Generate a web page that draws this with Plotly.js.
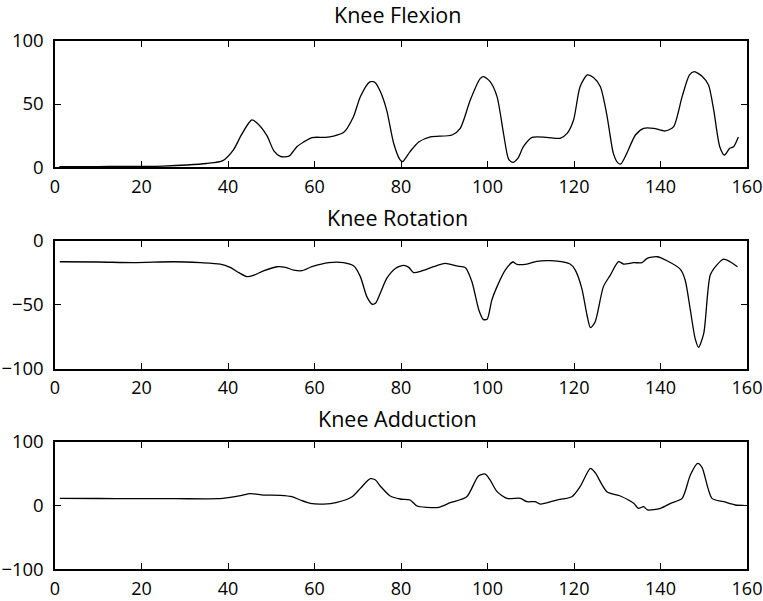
<!DOCTYPE html>
<html>
<head>
<meta charset="utf-8">
<script src="https://cdn.plot.ly/plotly-3.0.1.min.js"></script>
<style>html,body{margin:0;padding:0;background:#fff;}#chart{width:763px;height:601px;}</style>
</head>
<body>
<div id="chart"></div>
<script>
// Knee Flexion
const flexX = [1, 5, 10, 15, 20, 25, 30.5, 35, 38.8, 41.3, 43, 44.8, 45.5, 46.7, 49, 50.6, 52.1, 53.6, 54.2, 56, 57.5, 59.4, 62.5, 64.4, 66.7, 69, 70.6, 72.8, 74, 75.2, 76.7, 78.3, 79.8, 80.4, 82.1, 84.1, 86.8, 91.8, 93.7, 96, 98.3, 99.1, 100.6, 102.2, 103.7, 104.9, 105.9, 107, 108.3, 110.3, 113.7, 116.8, 118.4, 119.9, 121.4, 123.1, 124.5, 126.1, 127.6, 129.1, 130.1, 130.8, 132.2, 134.2, 136.1, 138.4, 141.1, 143, 145, 146.7, 147.8, 149.6, 151.1, 152.3, 153.7, 154.8, 156, 156.9, 158];
const flexY = [0.5, 0.6, 0.6, 0.7, 0.8, 1, 1.8, 3, 5.3, 14, 25, 35, 37.4, 35, 25, 13, 8.6, 8.4, 9, 16.5, 20, 23.5, 23.7, 24.7, 27.4, 40, 55.8, 67.5, 67, 60, 45, 19, 5.8, 4.5, 12.4, 20, 24, 25.5, 30.8, 53, 70, 71.6, 67.6, 55.8, 26.8, 6.3, 3.9, 7, 16.3, 23.7, 23.7, 22.9, 26.8, 37.4, 63.7, 73, 71, 63.7, 41.3, 11, 3.7, 2.6, 11, 25.5, 30.8, 30.8, 28.7, 32, 55.8, 73, 75.5, 72, 65, 45.3, 16.3, 9.7, 15, 16.3, 24];

// Knee Rotation
const rotX = [1.1, 10, 18.2, 27.4, 33.6, 38.2, 40.5, 42.5, 44.4, 45.9, 48.2, 51.3, 53.3, 55.2, 57.1, 59.4, 63.3, 66.7, 69.1, 70.6, 72.1, 73.3, 74.1, 75.2, 76.7, 78.7, 80.6, 81.8, 82.9, 84.8, 87.5, 90.2, 92.9, 94.9, 96.4, 98, 99, 99.9, 101, 102.2, 104.1, 105.9, 106.8, 109.1, 111.4, 114.5, 119.1, 120.3, 121.8, 123, 123.8, 124.9, 126.8, 128.4, 130.3, 131.5, 133.8, 135.7, 136.9, 139.2, 141.5, 144.6, 145.7, 146.9, 148, 148.8, 150, 151.5, 153, 154.6, 156.1, 157.8];
const rotY = [-16.4, -16.6, -17.1, -16.4, -17.1, -18.2, -20.8, -24.9, -28, -27, -23.6, -20.3, -20.8, -22.9, -23.4, -20.3, -17.1, -17.1, -19.7, -28, -43.6, -49.4, -48.8, -41, -29.4, -21.6, -19.2, -20.8, -24.9, -23.6, -20.3, -17.7, -19.7, -21, -32, -54, -61.3, -61.3, -46.2, -35.8, -22.9, -16.6, -18.4, -18.2, -16.1, -15.6, -18.2, -22.9, -37.1, -57.9, -67.8, -63.1, -35.8, -26.8, -16.4, -18.2, -17.1, -17.1, -13.8, -12.5, -15.6, -22.3, -30.6, -54, -76.1, -83.1, -72.2, -26.8, -19, -14.3, -16.4, -20.3];

// Knee Adduction
const addX = [1.1, 10, 18.2, 28, 37.5, 40.5, 42.9, 45.2, 48.2, 52.1, 54.8, 56.7, 59, 62.1, 65.2, 68.7, 70.6, 72.9, 74.1, 75.2, 77.5, 79.8, 82.1, 83.7, 86, 88.7, 91.4, 95.2, 97.9, 99.5, 100.6, 102.2, 104.5, 107.6, 109.1, 111, 112.2, 116, 119.5, 121.4, 123.8, 124.9, 127.6, 130.7, 133.8, 134.9, 136.1, 137, 140, 142.3, 145, 146.9, 148.6, 149.6, 151.9, 154.6, 157.3, 159.2];
const addY = [11.2, 11, 10.7, 10.7, 10.7, 12.8, 15.4, 18.5, 16.4, 15.9, 13.8, 8.6, 3.4, 2.3, 5, 13.8, 26.9, 42, 40, 30.5, 14.9, 10.2, 8.6, -0.8, -2.9, -2.9, 4.4, 13.8, 46.2, 49.3, 40, 21.7, 11.2, 11.2, 6, 6, 2.3, 8.6, 13.8, 29.5, 58.2, 51.4, 21.7, 14.9, 3.4, -4.4, -1.8, -7, -4.4, 3.4, 11.2, 47.8, 66, 59.8, 11.2, 6, 0.8, 0.3];

const titles = ["Knee Flexion", "Knee Rotation", "Knee Adduction"];
const xTicks = [0, 20, 40, 60, 80, 100, 120, 140, 160];
const yTicks1 = [0, 50, 100];
const yTicks2 = [-100, -50, 0];
const yTicks3 = [-100, 0, 100];

const H = 601;
function dom(top, bottom) { return [1 - bottom / H, 1 - top / H]; }

const fontFam = "Open Sans, sans-serif";
const lineStyle = {color: "#000", width: 1.3, shape: "spline", smoothing: 0.7};

const traces = [
  {x: flexX, y: flexY, xaxis: "x", yaxis: "y", mode: "lines", line: lineStyle, hoverinfo: "none"},
  {x: rotX, y: rotY, xaxis: "x2", yaxis: "y2", mode: "lines", line: lineStyle, hoverinfo: "none"},
  {x: addX, y: addY, xaxis: "x3", yaxis: "y3", mode: "lines", line: lineStyle, hoverinfo: "none"}
];

function xax(anchor) {
  return {anchor: anchor, domain: [0, 1], range: [0, 160], tickvals: xTicks, ticks: "inside", ticklen: 6,
    tickwidth: 1, tickcolor: "#000", showline: true, linecolor: "#000", linewidth: 1.6, mirror: "ticks",
    showgrid: false, zeroline: false, tickfont: {size: 18, color: "#000", family: fontFam},
    ticklabelstandoff: 2, ticklabeloverflow: "allow"};
}
function yax(anchor, d, r, tv) {
  return {anchor: anchor, domain: d, range: r, tickvals: tv, ticks: "inside", ticklen: 6, tickwidth: 1,
    tickcolor: "#000", showline: true, linecolor: "#000", linewidth: 1.6, mirror: "ticks", showgrid: false,
    zeroline: false, tickfont: {size: 18.5, color: "#000", family: fontFam}, ticklabelstandoff: 6,
    ticklabeloverflow: "allow"};
}

const titleY = [15, 217, 418];
const annotations = titles.map((t, i) => ({
  text: t, xref: "paper", yref: "paper", x: 0.495, y: 1 - titleY[i] / H, xanchor: "center", yanchor: "middle",
  showarrow: false, font: {size: 21.5, color: "#000", family: fontFam}
}));

const layout = {
  width: 763, height: 601,
  margin: {l: 55, r: 16, t: 0, b: 0},
  paper_bgcolor: "#fff", plot_bgcolor: "#fff",
  showlegend: false,
  xaxis: xax("y"), yaxis: yax("x", dom(40.7, 167.3), [0, 100], yTicks1),
  xaxis2: xax("y2"), yaxis2: yax("x2", dom(240.7, 369), [-100, 0], yTicks2),
  xaxis3: xax("y3"), yaxis3: yax("x3", dom(441.7, 569.3), [-100, 100], yTicks3),
  annotations: annotations
};

Plotly.newPlot("chart", traces, layout, {staticPlot: true, displayModeBar: false});
</script>
</body>
</html>
